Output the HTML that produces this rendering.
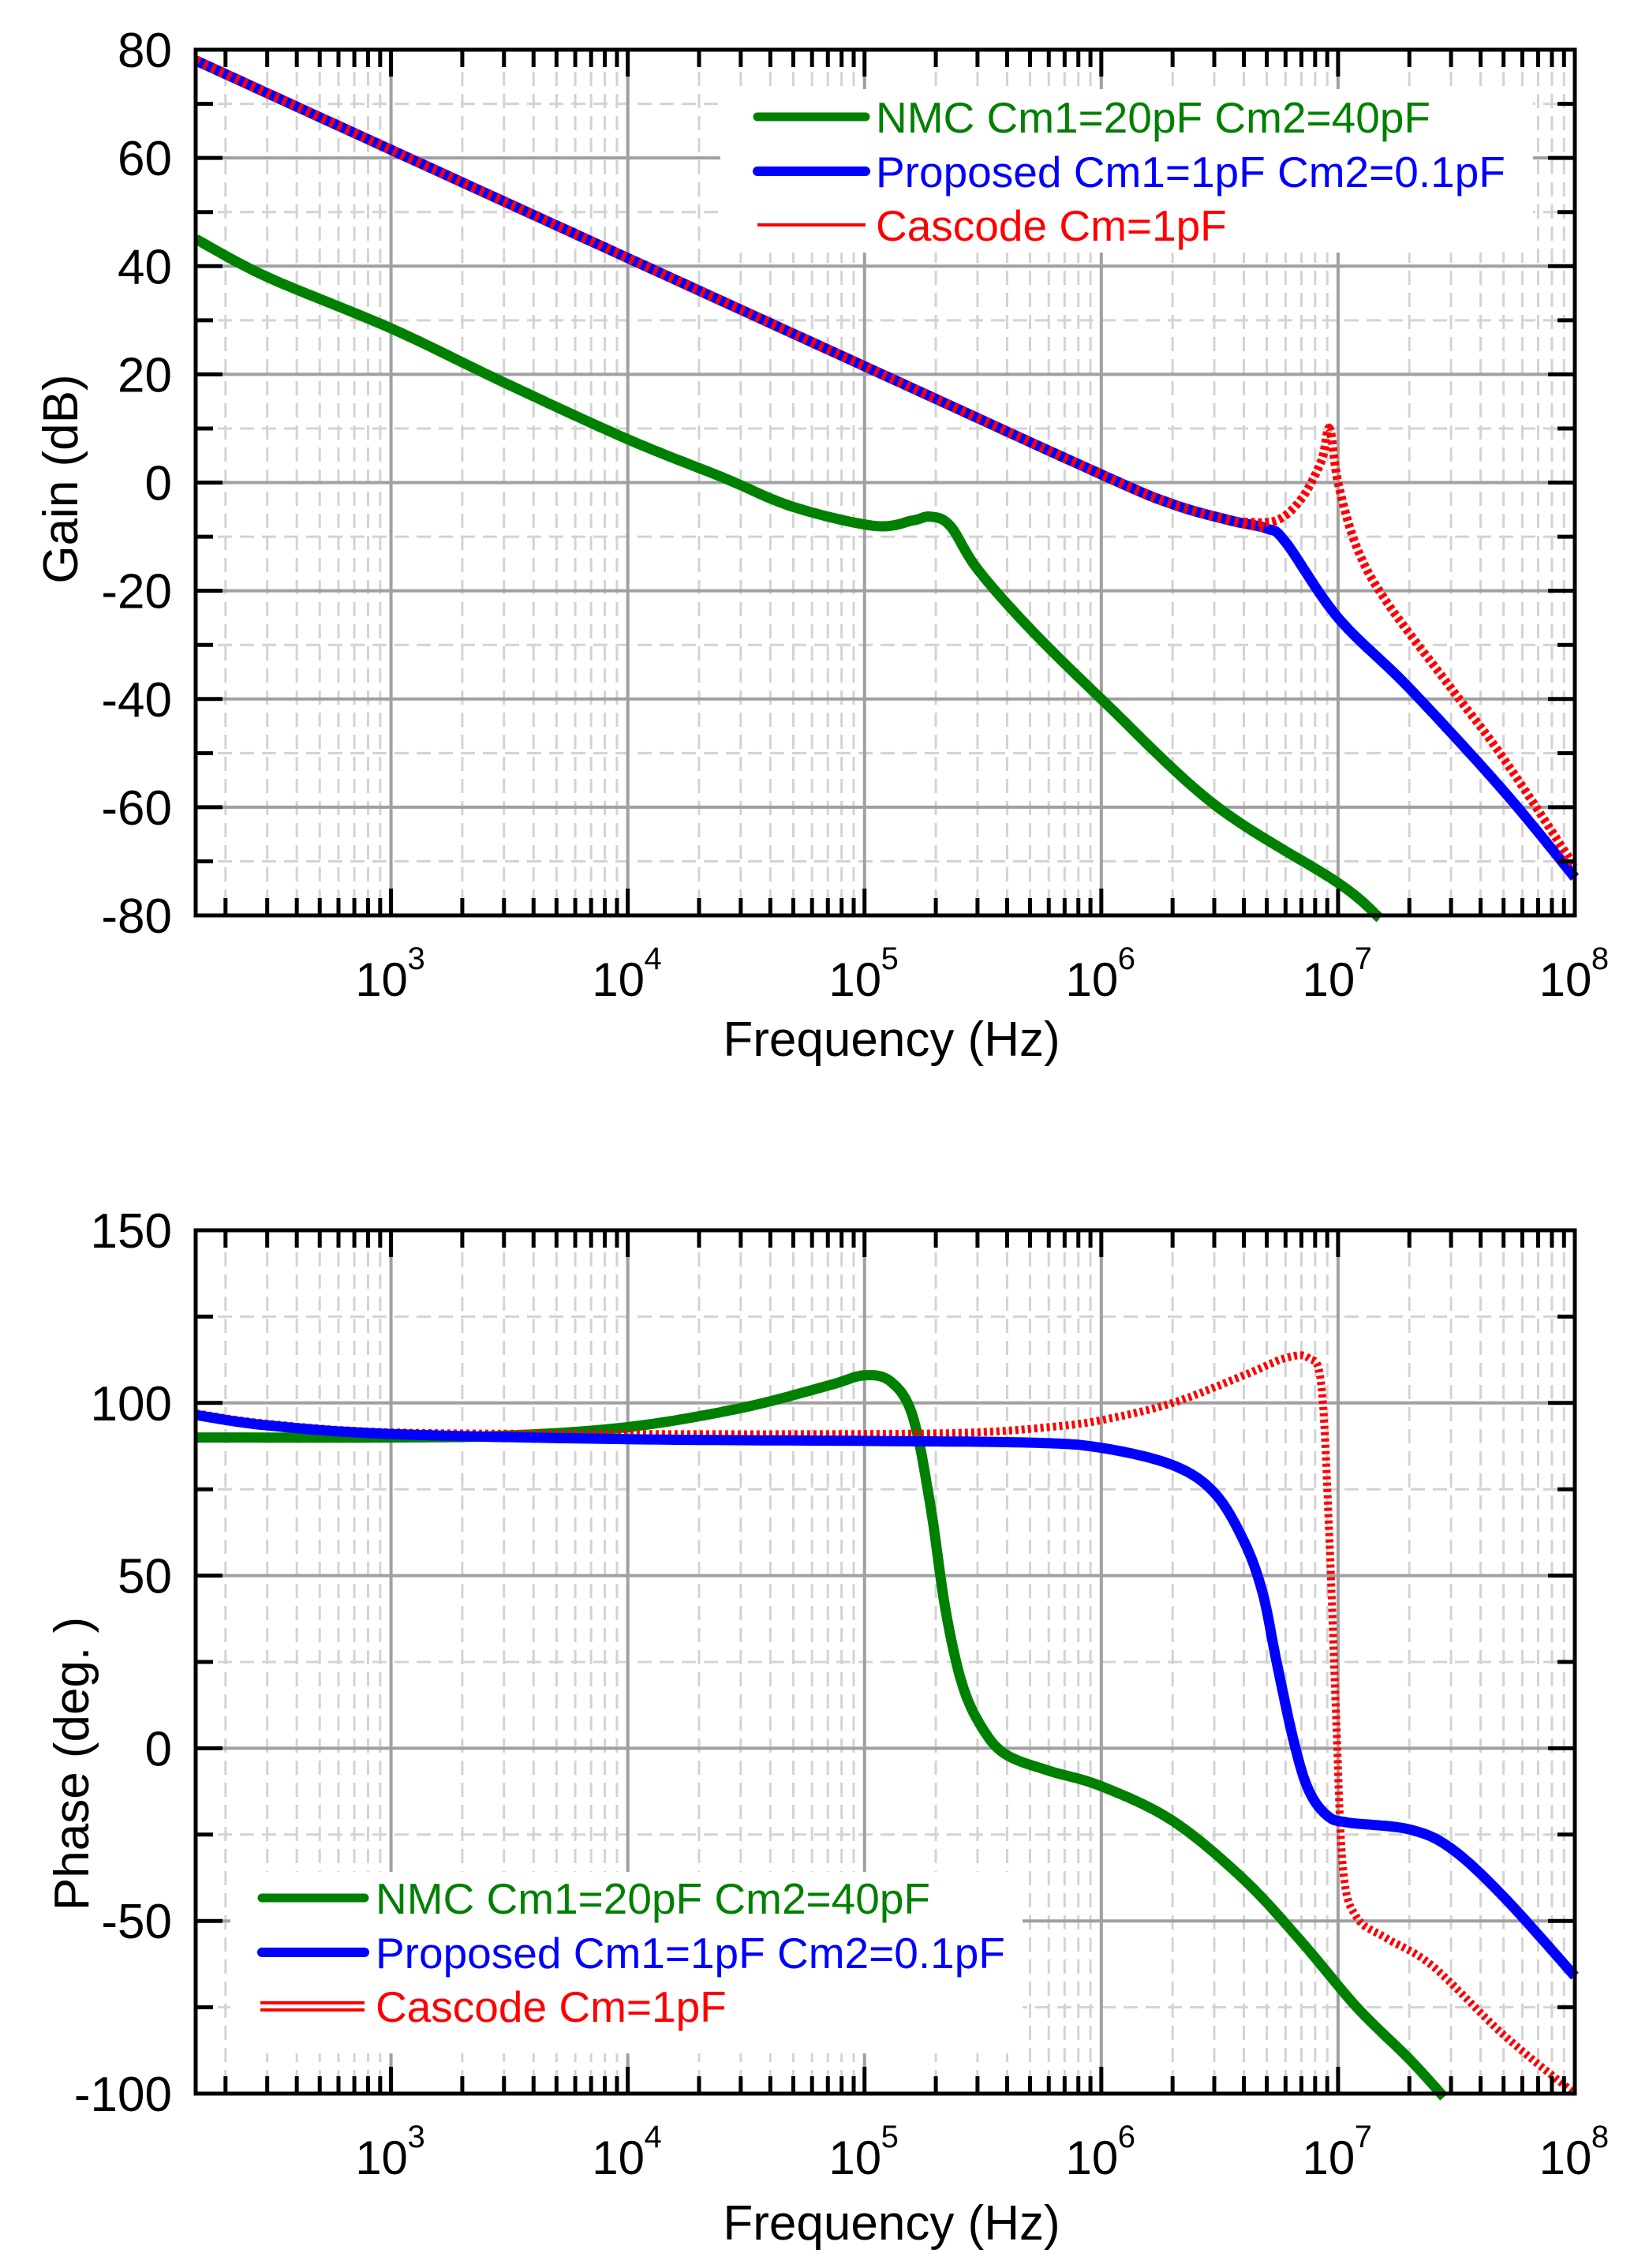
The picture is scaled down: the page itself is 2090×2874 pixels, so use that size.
<!DOCTYPE html>
<html><head><meta charset="utf-8"><style>
html,body{margin:0;padding:0;background:#fff;}
svg{display:block;}
text{font-family:"Liberation Sans",sans-serif;}
</style></head><body>
<svg id="s" width="2090" height="2874" xmlns="http://www.w3.org/2000/svg"></svg>
<script>
const S=document.getElementById('s');let h='';
const L=248,R=1996,lmin=2.175,lmax=8;
const X=f=>L+(Math.log10(f)-lmin)*(R-L)/(lmax-lmin);
function interp(pts){
 const P=pts.map(p=>[Math.log10(p[0]),p[1]]);let out=[];
 for(let i=0;i<P.length-1;i++){const p0=P[Math.max(0,i-1)],p1=P[i],p2=P[i+1],p3=P[Math.min(P.length-1,i+2)];
  for(let t=0;t<1;t+=0.05){const t2=t*t,t3=t2*t;
   const f=k=>0.5*((2*p1[k])+(-p0[k]+p2[k])*t+(2*p0[k]-5*p1[k]+4*p2[k]-p3[k])*t2+(-p0[k]+3*p1[k]-3*p2[k]+p3[k])*t3);
   out.push([f(0),f(1)]);}}
 out.push(P[P.length-1]);return out;}
function path(pts,Y,st){const q=interp(pts);return `<path d="M${q.map(p=>(L+(p[0]-lmin)*(R-L)/(lmax-lmin)).toFixed(1)+','+Y(p[1]).toFixed(1)).join('L')}" fill="none" ${st}/>`;}
function panel(T,B,vmax,vmin,major,minor){
 const Y=v=>T+(vmax-v)*(B-T)/(vmax-vmin);
 for(let v=vmin;v<=vmax;v+=minor){if(Math.abs((v-vmin)%major)>1e-6)h+=`<line x1="${L}" x2="${R}" y1="${Y(v)}" y2="${Y(v)}" stroke="#d3d3d3" stroke-width="3" stroke-dasharray="18 10"/>`;}
 for(let d=2;d<8;d++)for(let m=1;m<10;m++){const f=m*Math.pow(10,d);if(f<150||m==1)continue;const x=X(f);if(x>R)continue;
   h+=`<line x1="${x}" x2="${x}" y1="${T}" y2="${B}" stroke="#d3d3d3" stroke-width="3" stroke-dasharray="18 10"/>`;}
 for(let v=vmin+major;v<vmax;v+=major)h+=`<line x1="${L}" x2="${R}" y1="${Y(v)}" y2="${Y(v)}" stroke="#a0a0a0" stroke-width="4"/>`;
 for(let d=3;d<8;d++)h+=`<line x1="${X(10**d)}" x2="${X(10**d)}" y1="${T}" y2="${B}" stroke="#a0a0a0" stroke-width="4"/>`;
 return Y;}
function frame(T,B,vmax,vmin,major,minor,Y){
 for(let v=vmin;v<=vmax;v+=minor){const mj=Math.abs((v-vmin)%major)<1e-6,len=mj?34:22;
  h+=`<line x1="${L}" x2="${L+len}" y1="${Y(v)}" y2="${Y(v)}" stroke="#000" stroke-width="5"/><line x1="${R-len}" x2="${R}" y1="${Y(v)}" y2="${Y(v)}" stroke="#000" stroke-width="5"/>`;
  if(mj)h+=`<text x="218" y="${Y(v)+22}" font-size="62" text-anchor="end">${v}</text>`;}
 for(let d=2;d<8;d++)for(let m=1;m<10;m++){const f=m*10**d;if(f<150)continue;const x=X(f);if(x>R)continue;const len=m==1?34:22;
  h+=`<line x1="${x}" x2="${x}" y1="${T}" y2="${T+len}" stroke="#000" stroke-width="5"/><line x1="${x}" x2="${x}" y1="${B-len}" y2="${B}" stroke="#000" stroke-width="5"/>`;}
 h+=`<rect x="${L}" y="${T}" width="${R-L}" height="${B-T}" fill="none" stroke="#000" stroke-width="5"/>`;
 for(let d=3;d<=8;d++){const x=X(10**d);h+=`<text x="${x-12}" y="${B+102}" font-size="60" text-anchor="middle">10</text><text x="${x+32}" y="${B+68}" font-size="40" text-anchor="middle">${d}</text>`;}
}
let T=63,B=1160;
let Y=panel(T,B,80,-80,20,10);
const gG=[[150,45],[300,38],[1e3,28.5],[3e3,18.5],[1e4,8],[2.5e4,1],[5e4,-4.5],[1.1e5,-8],[1.6e5,-7],[1.9e5,-6.3],[2.3e5,-8],[3e5,-16],[5e5,-27],[1e6,-40],[3e6,-59.5],[1e7,-74],[1.5e7,-80.5]];
const bG=[[150,78],[1e3,61.5],[1e4,41.5],[1e5,21.5],[1e6,1.5],[2e6,-4],[3.5e6,-7],[5e6,-8.5],[6e6,-11],[1e7,-25],[2e7,-38],[5e7,-57],[1e8,-73]];
const rG=[[4e6,-7.3],[5.5e6,-7],[7e6,-3],[8.5e6,4],[9.2e6,10],[1e7,0],[1.2e7,-12],[1.6e7,-22],[3e7,-38],[5e7,-51],[1e8,-71]];
h+=`<rect x="913" y="113" width="1030" height="207" fill="#fff"/>`;
h+=path(gG,Y,'stroke="#008000" stroke-width="13" stroke-linejoin="round"');
h+=path(bG,Y,'stroke="#0000ff" stroke-width="13" stroke-linejoin="round"');
h+=path(bG.slice(0,8),Y,'stroke="#ff0000" stroke-width="12" stroke-dasharray="5 6"');
h+=path(rG,Y,'stroke="#ff0000" stroke-width="11" stroke-dasharray="5 4"');
frame(T,B,80,-80,20,10,Y);
h+=`<line x1="960" x2="1097" y1="148" y2="148" stroke="#008000" stroke-width="11" stroke-linecap="round"/><text x="1110" y="168" font-size="55" fill="#008000">NMC Cm1=20pF Cm2=40pF</text>`;
h+=`<line x1="960" x2="1097" y1="217" y2="217" stroke="#0000ff" stroke-width="12" stroke-linecap="round"/><text x="1110" y="237" font-size="55" fill="#0000ff">Proposed Cm1=1pF Cm2=0.1pF</text>`;
h+=`<line x1="960" x2="1097" y1="285" y2="285" stroke="#ff0000" stroke-width="4"/><text x="1110" y="305" font-size="55" fill="#ff0000">Cascode Cm=1pF</text>`;
h+=`<text x="1130" y="1338" font-size="62" text-anchor="middle">Frequency (Hz)</text>`;
h+=`<text transform="translate(98,607) rotate(-90)" font-size="62" text-anchor="middle">Gain (dB)</text>`;
T=1559;B=2653;
Y=panel(T,B,150,-100,50,25);
const gP=[[150,90],[1e3,90],[3e3,90.5],[1e4,93],[3e4,98.5],[7e4,105],[1e5,108],[1.3e5,106],[1.6e5,96],[1.9e5,70],[2.2e5,40],[2.6e5,18],[3.2e5,5],[4e5,-2],[6e5,-6.5],[1e6,-11],[2e6,-21],[4e6,-38],[7e6,-56],[1.2e7,-75],[2e7,-90],[2.8e7,-101]];
const bP=[[150,96.5],[300,93.5],[1e3,91],[1e4,89.5],[1e5,89],[5e5,88.5],[1e6,87],[2e6,82],[3e6,74],[4e6,60],[4.8e6,45],[5.5e6,25],[6.5e6,2],[7.5e6,-12],[9e6,-19.5],[1.1e7,-21.5],[2e7,-23.5],[3e7,-29],[5e7,-43],[1e8,-66]];
const rP=[[150,97],[300,94],[1e3,91.5],[1e4,91],[1e5,91],[3e5,91.5],[6e5,93],[1e6,95],[2e6,100],[4e6,108],[6e6,113],[7.5e6,113],[8.5e6,105],[9.2e6,60],[9.8e6,10],[1.05e7,-35],[1.2e7,-49],[1.6e7,-55],[2.5e7,-63],[5e7,-83],[1e8,-100]];
h+=`<rect x="292" y="2372" width="1004" height="230" fill="#fff"/>`;
h+=path(gP,Y,'stroke="#008000" stroke-width="13" stroke-linejoin="round"');
h+=path(rP,Y,'stroke="#ff0000" stroke-width="10" stroke-dasharray="4 4" stroke-linejoin="round"');
h+=path(bP,Y,'stroke="#0000ff" stroke-width="13" stroke-linejoin="round"');
frame(T,B,150,-100,50,25,Y);
h+=`<line x1="332" x2="462" y1="2405" y2="2405" stroke="#008000" stroke-width="11" stroke-linecap="round"/><text x="476" y="2425" font-size="55" fill="#008000">NMC Cm1=20pF Cm2=40pF</text>`;
h+=`<line x1="332" x2="462" y1="2474" y2="2474" stroke="#0000ff" stroke-width="12" stroke-linecap="round"/><text x="476" y="2494" font-size="55" fill="#0000ff">Proposed Cm1=1pF Cm2=0.1pF</text>`;
h+=`<line x1="330" x2="462" y1="2538" y2="2538" stroke="#ff0000" stroke-width="4"/><line x1="330" x2="462" y1="2547" y2="2547" stroke="#ff0000" stroke-width="4"/><text x="476" y="2562" font-size="55" fill="#ff0000">Cascode Cm=1pF</text>`;
h+=`<text x="1130" y="2838" font-size="62" text-anchor="middle">Frequency (Hz)</text>`;
h+=`<text transform="translate(112,2235) rotate(-90)" font-size="62" text-anchor="middle">Phase (deg. )</text>`;
S.innerHTML=h;
</script>
</body></html>
